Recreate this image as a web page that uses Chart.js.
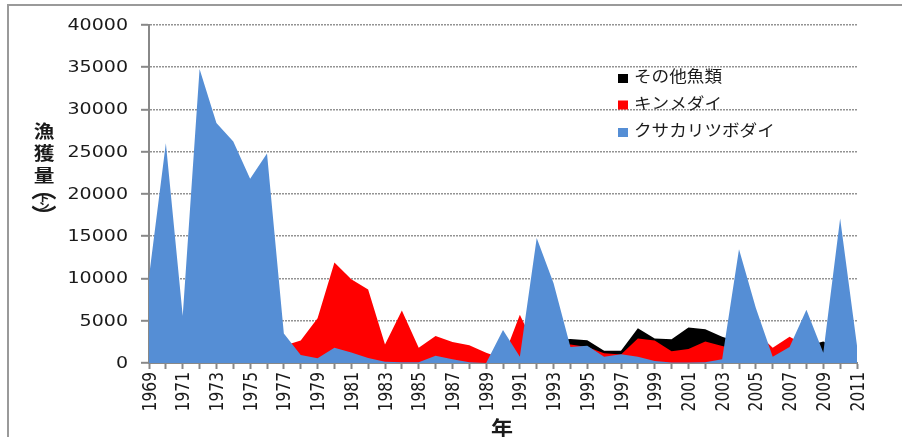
<!DOCTYPE html>
<html>
<head>
<meta charset="utf-8">
<script src="https://cdn.jsdelivr.net/npm/chart.js@4/dist/chart.umd.min.js"></script>
<style>
    html, body { margin: 0; padding: 0; background: #fff; }
    #wrap { width: 902px; height: 437px; }
</style>
</head>
<body>
<div id="wrap"><canvas id="catch"></canvas></div>
<script>
// 漁獲量 (トン), 1969-2011
const years = ['1969', '1970', '1971', '1972', '1973', '1974', '1975', '1976', '1977', '1978',
    '1979', '1980', '1981', '1982', '1983', '1984', '1985', '1986', '1987', '1988',
    '1989', '1990', '1991', '1992', '1993', '1994', '1995', '1996', '1997', '1998',
    '1999', '2000', '2001', '2002', '2003', '2004', '2005', '2006', '2007', '2008',
    '2009', '2010', '2011'];

const otherFish = [0, 0, 0, 0, 0, 0, 0, 0, 0, 0,
    0, 0, 0, 0, 0, 0, 0, 0, 0, 0,
    0, 0, 0, 0, 2700, 2850, 2700, 1450, 1450, 4100,
    2900, 2800, 4200, 4000, 3100, 2500, 2000, 1500, 1500, 2000,
    2550, 1500, 1000];

const kinmedai = [800, 1000, 900, 1200, 1500, 1300, 1100, 1600, 2050, 2650,
    5300, 11900, 9900, 8700, 2200, 6200, 1800, 3200, 2500, 2100,
    1200, 500, 5700, 1500, 1800, 2200, 1900, 1150, 1000, 2900,
    2650, 1400, 1650, 2550, 2000, 1500, 3700, 1800, 3100, 2000,
    800, 1000, 800];

const kusakari = [10200, 26000, 5600, 34800, 28400, 26200, 21800, 24800, 3500, 950,
    550, 1800, 1250, 600, 150, 100, 100, 850, 430, 100,
    0, 3900, 750, 14800, 9450, 1900, 2050, 750, 1050, 750,
    250, 50, 50, 100, 450, 13450, 6500, 750, 1900, 6300,
    1200, 17100, 2050];

const seriesNames = ['その他魚類', 'キンメダイ', 'クサカリツボダイ'];
const seriesColors = ['#000000', '#ff0000', '#558ed5'];
const yTicks = [0, 5000, 10000, 15000, 20000, 25000, 30000, 35000, 40000];

const latinFont = '"DejaVu Sans", Verdana, sans-serif';
const cjkFont = '"Noto Sans CJK JP", "Noto Sans CJK SC", sans-serif';

// text squeezed/stretched horizontally, optionally turned to read bottom-up
function drawText(ctx, text, x, y, sx, align, baseline, turned) {
    ctx.save();
    ctx.translate(x, y);
    ctx.scale(sx, 1);
    if (turned) ctx.rotate(-Math.PI / 2);
    ctx.textAlign = align;
    ctx.textBaseline = baseline;
    ctx.fillText(text, 0, 0);
    ctx.restore();
}

const decorations = {
    id: 'decorations',
    beforeDraw(chart) {
        let ctx = chart.ctx;
        ctx.save();
        ctx.strokeStyle = '#9a9a9a';
        ctx.lineWidth = 2;
        ctx.strokeRect(8, 5, 1000, 1000);
        ctx.restore();
    },
    afterDraw(chart) {
        let ctx = chart.ctx;
        let xs = chart.scales.x;
        let ys = chart.scales.y;

        ctx.save();
        ctx.fillStyle = '#1a1a1a';

        // value axis labels
        ctx.font = '15px ' + latinFont;
        ys.ticks.forEach(function (t) {
            drawText(ctx, String(t.value), 128, ys.getPixelForValue(t.value) + 1, 1.27, 'right', 'middle', false);
        });

        // year labels, every other year
        ctx.font = '15.5px ' + latinFont;
        xs.ticks.forEach(function (t, i) {
            if (i % 2 !== 0) return;
            drawText(ctx, years[i], xs.getPixelForTick(i) + 1.5, 372, 1.25, 'right', 'middle', true);
        });

        // axis titles
        ctx.font = 'bold 20px ' + cjkFont;
        drawText(ctx, '年', 502, 428, 1.1, 'center', 'middle', false);

        let title = [['漁', 131, 18], ['獲', 153, 18], ['量', 175, 18],
            ['︵', 189, 22], ['ト', 198, 10], ['ン', 206, 10], ['︶', 216, 22]];
        title.forEach(function (c) {
            ctx.font = 'bold ' + c[2] + 'px ' + cjkFont;
            drawText(ctx, c[0], 44, c[1], 1.15, 'center', 'middle', false);
        });

        // legend
        let rows = [76, 102.5, 130];
        chart.data.datasets.forEach(function (ds, i) {
            ctx.fillStyle = ds.backgroundColor;
            ctx.fillRect(618, rows[i] - 2, 10, 9);
            ctx.fillStyle = '#1a1a1a';
            ctx.font = '16px ' + cjkFont;
            drawText(ctx, ds.label, 634, rows[i], 1.1, 'left', 'middle', false);
        });
        ctx.restore();
    }
};

function areaSet(i, data, order) {
    return {
        label: seriesNames[i],
        data: data,
        backgroundColor: seriesColors[i],
        borderColor: 'rgba(0,0,0,0)',
        borderWidth: 0,
        pointRadius: 0,
        tension: 0,
        fill: 'origin',
        order: order
    };
}

let chart = new Chart(document.getElementById('catch').getContext('2d'), {
    type: 'line',
    data: {
        labels: years,
        datasets: [
            areaSet(0, otherFish, 3),
            areaSet(1, kinmedai, 2),
            areaSet(2, kusakari, 1)
        ]
    },
    options: {
        responsive: true,
        maintainAspectRatio: false,
        animation: false,
        devicePixelRatio: 1,
        layout: {padding: {top: 25, right: 45, left: 0, bottom: 0}},
        plugins: {
            legend: {display: false},
            tooltip: {enabled: false}
        },
        scales: {
            x: {
                type: 'category',
                offset: false,
                grid: {
                    offset: false,
                    drawOnChartArea: false,
                    drawTicks: true,
                    tickLength: 6,
                    tickColor: '#888888',
                    tickWidth: 2
                },
                border: {color: '#888888', width: 2},
                ticks: {display: false, autoSkip: false},
                afterFit: function (s) { s.height = 74; }
            },
            y: {
                min: 0,
                max: 40000,
                afterBuildTicks: function (s) {
                    s.ticks = yTicks.map(function (v) { return {value: v}; });
                },
                grid: {
                    color: 'rgba(120,120,120,0.8)',
                    lineWidth: 1.6,
                    drawTicks: true,
                    tickLength: 8,
                    tickColor: '#888888',
                    tickWidth: 2,
                    tickBorderDash: []
                },
                border: {color: '#888888', width: 2, dash: [2, 1]},
                ticks: {display: false},
                afterFit: function (s) { s.width = 149; }
            }
        }
    },
    plugins: [decorations]
});
</script>
</body>
</html>
